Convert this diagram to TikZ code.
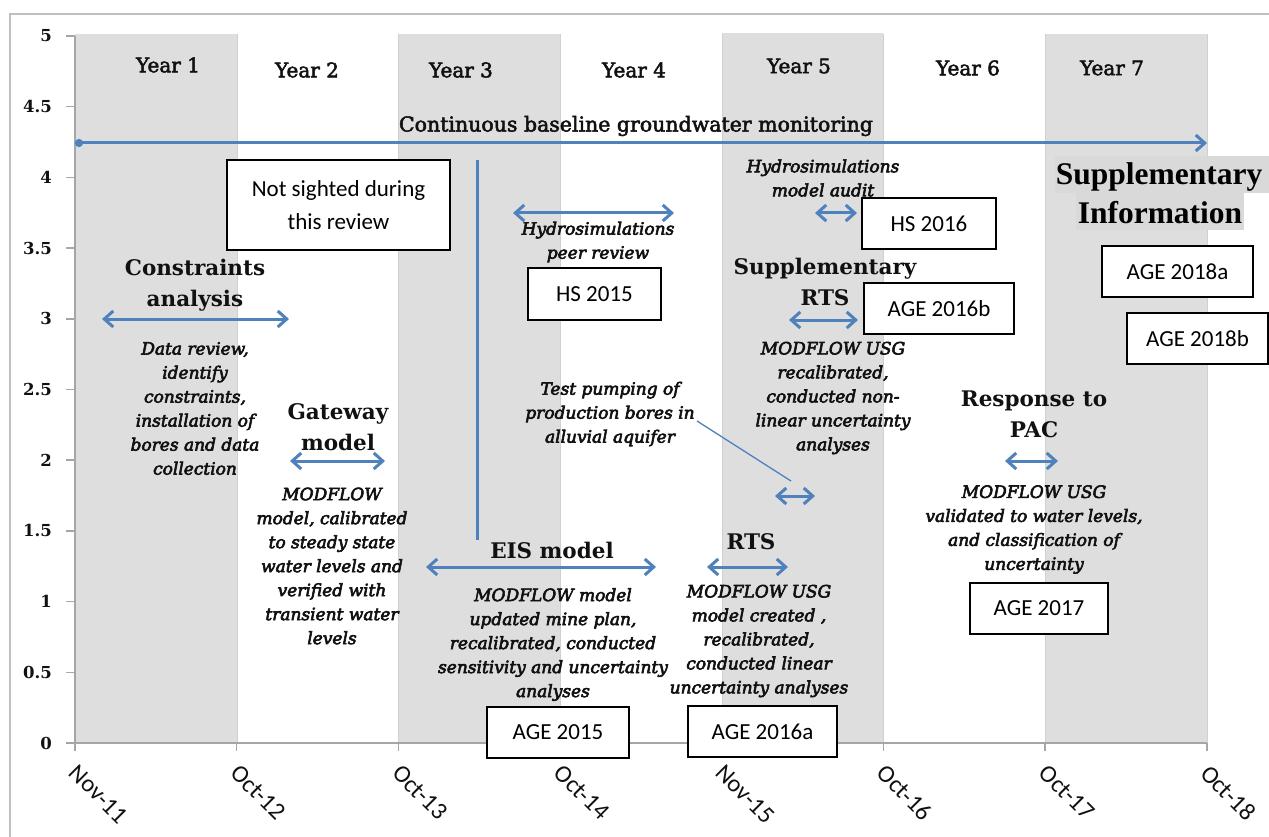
\documentclass[tikz,border=0pt]{standalone}
\usepackage{fontspec}
\setmainfont{DejaVu Serif}
\newfontfamily\heavy[FakeBold=2.5]{DejaVu Serif}
\newfontfamily\heavyit[FakeBold=3.5]{DejaVu Serif}
\newfontfamily\boxfont{Carlito}
\newfontfamily\timesfont{Liberation Serif}
\usetikzlibrary{arrows.meta}
\definecolor{band}{HTML}{DEDEDE}
\definecolor{arr}{HTML}{4F81BD}
\definecolor{axisgray}{HTML}{A6A6A6}
\definecolor{framegray}{HTML}{C0C0C0}
\definecolor{gridgray}{HTML}{D0D0D0}
\definecolor{txt}{HTML}{111111}
\definecolor{hl}{HTML}{D9D9D9}
\begin{document}
\begin{tikzpicture}[x=1pt,y=-1pt,
  yearlab/.style={font=\heavy\fontsize{20}{20}\selectfont, text=txt, inner sep=0pt},
  ttl/.style={font=\fontsize{21.5}{31}\selectfont\bfseries, text=txt, align=center, inner sep=0pt},
  desc/.style={font=\heavyit\fontsize{17}{24}\selectfont\itshape, text=txt, align=center, inner sep=0pt},
  refbox/.style={draw=black, line width=1.6pt, fill=white, inner sep=0pt, align=center,
                 font=\boxfont\fontsize{23}{33}\selectfont, text=black},
  ylab/.style={font=\fontsize{16.5}{16.5}\selectfont\bfseries, text=txt, anchor=east, inner sep=0pt},
  dlab/.style={font=\boxfont\fontsize{24.5}{24.5}\selectfont, text=txt, rotate=-45, anchor=north west, inner sep=0pt},
  barb/.tip={Straight Barb[length=9pt,width=16pt]},
  dbl/.style={draw=arr, line width=3pt, barb-barb},
  leader/.style={draw=arr, line width=1.3pt},
]
\useasboundingbox (0,0) rectangle (1269,837);
\fill[white] (0,0) rectangle (1269,837);
% frame
\draw[framegray, line width=2pt] (10,840) -- (10,14) -- (1275,14);
% bands
\fill[band] (75,34) rectangle (237,743);
\fill[band] (398,34) rectangle (560,743);
\fill[band] (722,33) rectangle (883,743);
\fill[band] (1045,34) rectangle (1207,743);
\foreach \x in {237,398,560,722,883,1045,1207}
  \draw[gridgray, line width=1pt] (\x,34) -- (\x,743);
% axes
\draw[axisgray, line width=1.5pt] (75,36) -- (75,743) -- (1207,743);
\foreach \v/\t in {0/0,0.5/0.5,1/1,1.5/1.5,2/2,2.5/2.5,3/3,3.5/3.5,4/4,4.5/4.5,5/5} {
  \draw[axisgray, line width=1.5pt] (66,{743-141.4*\v}) -- (75,{743-141.4*\v});
  \node[ylab] at (52,{743-141.4*\v}) {\t};
}
\foreach \i/\t in {0/Nov-11,1/Oct-12,2/Oct-13,3/Oct-14,4/Nov-15,5/Oct-16,6/Oct-17,7/Oct-18} {
  \draw[axisgray, line width=1.5pt] ({75+161.7*\i},743) -- ({75+161.7*\i},751);
  \node[dlab] at ({75+161.7*\i+4},763) {\t};
}
% year labels
\node[yearlab] (y1) at (168,65) {Year 1};
\node[yearlab] (y2) at (307,70) {Year 2};
\node[yearlab] (y3) at (461,70) {Year 3};
\node[yearlab] (y4) at (634,70) {Year 4};
\node[yearlab] (y5) at (799,66) {Year 5};
\node[yearlab] (y6) at (968,68) {Year 6};
\node[yearlab] (y7) at (1112,68) {Year 7};
% continuous monitoring
\node[font=\heavy\fontsize{20.5}{20.5}\selectfont, text=txt, inner sep=0pt] (cont) at (636,126) {Continuous baseline groundwater monitoring};
\coordinate (c1) at (75,143);
\coordinate (c2) at (1207,143);
\draw[draw=arr, line width=3pt, {Circle[length=8pt]}-barb] (c1) -- (c2);
% vertical line
\coordinate (v1) at (477,160);
\coordinate (v2) at (477,540);
\draw[arr, line width=3pt] (v1) -- (v2);
% Not sighted box
\node[refbox, minimum width=223pt, minimum height=90pt] (nots) at (338.5,205) {Not sighted during\\this review};
% Constraints analysis
\node[ttl] (cat) at (195,285.5) {Constraints\\analysis};
\coordinate (ca1) at (102,319); \coordinate (ca2) at (289,319);
\draw[dbl] (ca1) -- (ca2);
\node[desc] (cad) at (195,408.5) {Data review,\\identify\\constraints,\\installation of\\bores and data\\collection};
% Gateway model
\node[ttl] (gwt) at (338,427.5) {Gateway\\model};
\coordinate (gw1) at (290,461); \coordinate (gw2) at (385,461);
\draw[dbl] (gw1) -- (gw2);
\node[desc] (gwd) at (332,566) {MODFLOW\\model, calibrated\\to steady state\\water levels and\\verified with\\transient water\\levels};
% Hydrosimulations peer review
\coordinate (hp1) at (513,213); \coordinate (hp2) at (674,213);
\draw[dbl] (hp1) -- (hp2);
\node[desc] (hpd) at (598,242) {Hydrosimulations\\peer review};
\node[refbox, minimum width=133pt, minimum height=52pt] (hs15) at (594.5,294) {HS 2015};
% EIS model
\node[ttl] (eist) at (552,550) {EIS model};
\coordinate (e1) at (426,567); \coordinate (e2) at (656,567);
\draw[dbl] (e1) -- (e2);
\node[desc] (eisd) at (553,644.5) {MODFLOW model\\updated mine plan,\\recalibrated, conducted\\sensitivity and uncertainty\\analyses};
\node[refbox, minimum width=142pt, minimum height=51pt] (age15) at (558,732.5) {AGE 2015};
% Test pumping
\node[desc] (tpd) at (610,414) {Test pumping of\\production bores in\\alluvial aquifer};
\coordinate (tl1) at (697,421); \coordinate (tl2) at (791,481);
\draw[leader] (tl1) -- (tl2);
\coordinate (tp1) at (775,496); \coordinate (tp2) at (815,496);
\draw[dbl] (tp1) -- (tp2);
% RTS
\node[ttl] (rtst) at (751,542) {RTS};
\coordinate (r1) at (707,567); \coordinate (r2) at (788,567);
\draw[dbl] (r1) -- (r2);
\node[desc] (rtsd) at (759,641) {MODFLOW USG\\model created ,\\recalibrated,\\conducted linear\\uncertainty analyses};
\node[refbox, minimum width=149pt, minimum height=51pt] (age16a) at (762.5,731.5) {AGE 2016a};
% Hydrosimulations model audit
\node[desc] (had) at (823,178) {Hydrosimulations\\model audit};
\coordinate (ha1) at (815,213); \coordinate (ha2) at (857,213);
\draw[dbl] (ha1) -- (ha2);
\node[refbox, minimum width=134pt, minimum height=51pt] (hs16) at (929,223.5) {HS 2016};
% Supplementary RTS
\node[ttl] (srtst) at (825,282) {Supplementary\\RTS};
\coordinate (s1) at (789,320); \coordinate (s2) at (858,320);
\draw[dbl] (s1) -- (s2);
\node[refbox, minimum width=150pt, minimum height=51pt] (age16b) at (939,308.5) {AGE 2016b};
\node[desc] (srtsd) at (833,398) {MODFLOW USG\\recalibrated,\\conducted non-\\linear uncertainty\\analyses};
% Response to PAC
\node[ttl] (pact) at (1034,414) {Response to\\PAC};
\coordinate (p1) at (1005,461); \coordinate (p2) at (1058,461);
\draw[dbl] (p1) -- (p2);
\node[desc] (pacd) at (1034,529.5) {MODFLOW USG\\validated to water levels,\\and classification of\\uncertainty};
\node[refbox, minimum width=138pt, minimum height=51pt] (age17) at (1039,608.5) {AGE 2017};
% Supplementary Information
\fill[hl] (1055,156) rectangle (1269,193);
\fill[hl] (1076,193) rectangle (1244,230);
\node[font=\timesfont\fontsize{31.5}{36}\selectfont\bfseries, text=black, inner sep=0pt] (si1) at (1159,177) {Supplementary};
\node[font=\timesfont\fontsize{31.5}{36}\selectfont\bfseries, text=black, inner sep=0pt] (si2) at (1160,213) {Information};
\node[refbox, minimum width=151pt, minimum height=51pt] (age18a) at (1177.5,271.5) {AGE 2018a};
\node[refbox, minimum width=141pt, minimum height=51pt] (age18b) at (1197.5,338.5) {AGE 2018b};
\end{tikzpicture}
\end{document}
